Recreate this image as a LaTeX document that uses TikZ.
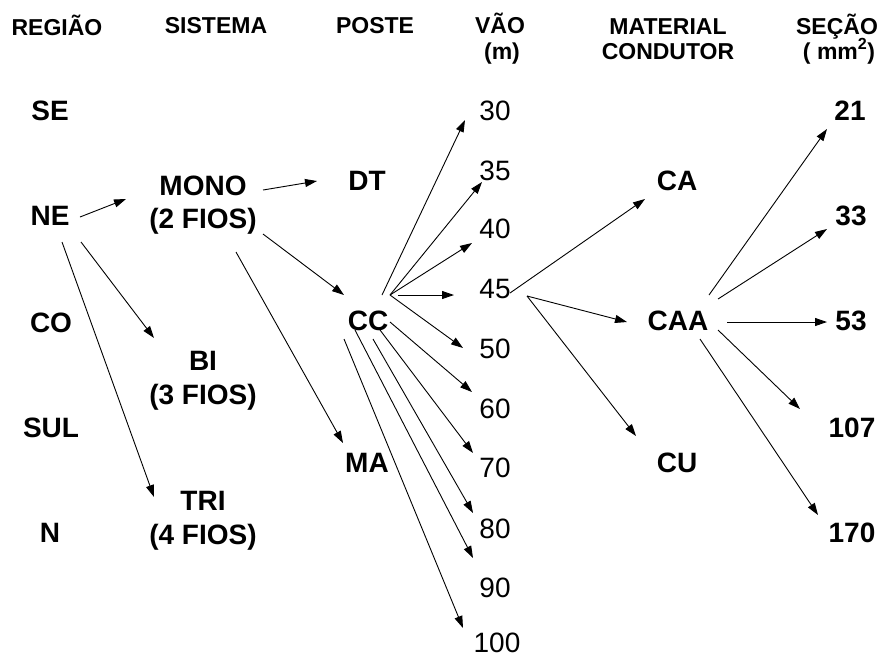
\documentclass[tikz,border=0pt]{standalone}
\usepackage{fontspec}
\setmainfont{Liberation Sans}
\usetikzlibrary{arrows.meta}
\begin{document}
\begin{tikzpicture}[x=1pt,y=-1pt,
  hdr/.style={font=\fontsize{23}{27}\selectfont\bfseries, anchor=base, inner sep=0pt},
  lbl/.style={font=\fontsize{28}{34}\selectfont\bfseries, anchor=base, inner sep=0pt},
  num/.style={font=\fontsize{28}{34}\selectfont, anchor=base, inner sep=0pt},
  arr/.style={-{Triangle[length=12pt,width=8pt]}, line width=0.9pt}]
\useasboundingbox (0,0) rectangle (893,657);
% headers
\node[hdr] (hReg) at (57,35) {REGIÃO};
\node[hdr] (hSis) at (216,33) {SISTEMA};
\node[hdr] (hPos) at (375,33) {POSTE};
\node[hdr] (hVao) at (500,33) {VÃO};
\node[hdr] (hM) at (502,59) {(m)};
\node[hdr] (hMat) at (668,34) {MATERIAL};
\node[hdr] (hCond) at (668,59) {CONDUTOR};
\node[hdr] (hSec) at (837,34) {SEÇÃO};
\node[hdr] (hMm) at (839,59) {( mm\textsuperscript{2})};
% regions
\node[lbl] (SE) at (50,120) {SE};
\node[lbl] (NE) at (50,225) {NE};
\node[lbl] (CO) at (51,332) {CO};
\node[lbl] (SUL) at (51,437) {SUL};
\node[lbl] (N) at (50,542) {N};
% systems
\node[lbl] (mono) at (203,195) {MONO};
\node[lbl] (mono2) at (203,228) {(2 FIOS)};
\node[lbl] (bi) at (203,370) {BI};
\node[lbl] (bi2) at (203,404) {(3 FIOS)};
\node[lbl] (tri) at (203,510) {TRI};
\node[lbl] (tri2) at (203,544) {(4 FIOS)};
% poles
\node[lbl] (DT) at (367,190) {DT};
\node[lbl] (CC) at (368,330) {CC};
\node[lbl] (MA) at (367,472) {MA};
% spans
\node[num] (v30) at (495,120) {30};
\node[num] (v35) at (495,180) {35};
\node[num] (v40) at (495,238) {40};
\node[num] (v45) at (495,298) {45};
\node[num] (v50) at (495,358) {50};
\node[num] (v60) at (495,418) {60};
\node[num] (v70) at (495,477) {70};
\node[num] (v80) at (495,538) {80};
\node[num] (v90) at (495,597) {90};
\node[num] (v100) at (497,652) {100};
% material
\node[lbl] (CA) at (677,190) {CA};
\node[lbl] (CAA) at (678,330) {CAA};
\node[lbl] (CU) at (677,472) {CU};
% sections
\node[lbl] (s21) at (850,120) {21};
\node[lbl] (s33) at (851,225) {33};
\node[lbl] (s53) at (851,330) {53};
\node[lbl] (s107) at (852,437) {107};
\node[lbl] (s170) at (852,542) {170};
% arrows
\draw[arr] ([shift={(30,-8)}]NE.base) -- ([shift={(-77,4)}]mono.base);
\draw[arr] ([shift={(31,17)}]NE.base) -- ([shift={(-49,-32)}]bi.base);
\draw[arr] ([shift={(12,17)}]NE.base) -- ([shift={(-49,-13)}]tri.base);
\draw[arr] ([shift={(60,-5)}]mono.base) -- ([shift={(-50,-9)}]DT.base);
\draw[arr] ([shift={(60,6)}]mono2.base) -- ([shift={(-24,-35)}]CC.base);
\draw[arr] ([shift={(33,24)}]mono2.base) -- ([shift={(-24,-29)}]MA.base);
\draw[arr] ([shift={(14,-35)}]CC.base) -- ([shift={(-30,0)}]v30.base);
\draw[arr] ([shift={(22,-35)}]CC.base) -- ([shift={(-13,2)}]v35.base);
\draw[arr] ([shift={(22,-35)}]CC.base) -- ([shift={(-23,5)}]v40.base);
\draw[arr] ([shift={(30,-35)}]CC.base) -- ([shift={(-41,-3)}]v45.base);
\draw[arr] ([shift={(22,-35)}]CC.base) -- ([shift={(-32,-10)}]v50.base);
\draw[arr] ([shift={(22,-8)}]CC.base) -- ([shift={(-23,-26)}]v60.base);
\draw[arr] ([shift={(12,0)}]CC.base) -- ([shift={(-22,-24)}]v70.base);
\draw[arr] ([shift={(5,9)}]CC.base) -- ([shift={(-22,-25)}]v80.base);
\draw[arr] ([shift={(-13,0)}]CC.base) -- ([shift={(-22,-39)}]v90.base);
\draw[arr] ([shift={(-24,9)}]CC.base) -- ([shift={(-34,-24)}]v100.base);
\draw[arr] ([shift={(15,-5)}]v45.base) -- ([shift={(-32,9)}]CA.base);
\draw[arr] ([shift={(32,-2)}]v45.base) -- ([shift={(-51,-8)}]CAA.base);
\draw[arr] ([shift={(32,-2)}]v45.base) -- ([shift={(-41,-36)}]CU.base);
\draw[arr] ([shift={(31,-35)}]CAA.base) -- ([shift={(-23,9)}]s21.base);
\draw[arr] ([shift={(40,-31)}]CAA.base) -- ([shift={(-24,4)}]s33.base);
\draw[arr] ([shift={(49,-8)}]CAA.base) -- ([shift={(-24,-8)}]s53.base);
\draw[arr] ([shift={(40,0)}]CAA.base) -- ([shift={(-52,-28)}]s107.base);
\draw[arr] ([shift={(22,9)}]CAA.base) -- ([shift={(-34,-27)}]s170.base);
\end{tikzpicture}
\end{document}
